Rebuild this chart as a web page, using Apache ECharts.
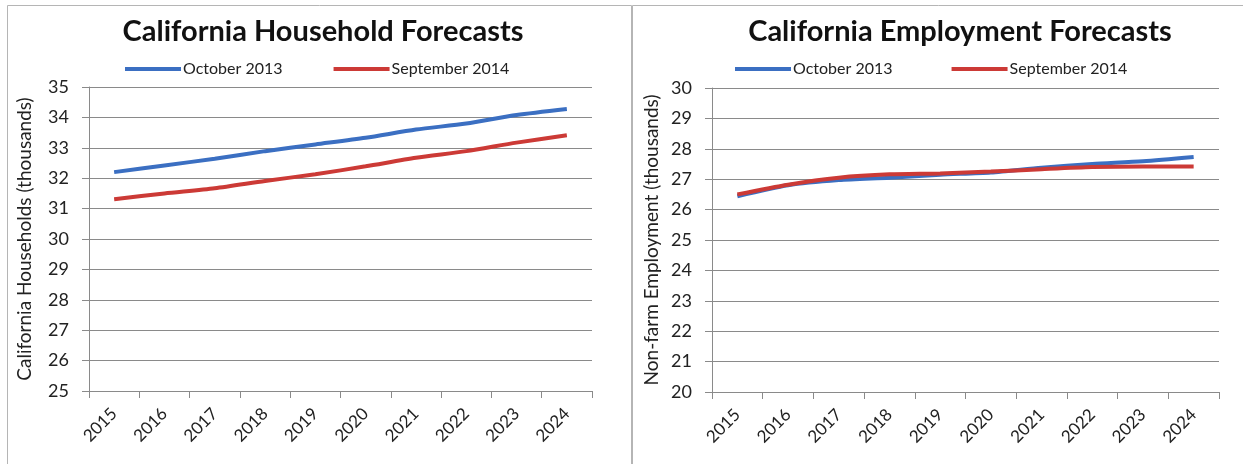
<!DOCTYPE html>
<html><head><meta charset="utf-8">
<script src="https://cdn.jsdelivr.net/npm/echarts@6/dist/echarts.min.js"></script>
<style>html,body{margin:0;padding:0;background:#fff}#c{width:1243px;height:464px}</style>
</head><body><div id="c"></div>
<script>
const years = ['2015','2016','2017','2018','2019','2020','2021','2022','2023','2024'];
const householdOct2013 = [32.2, 32.42, 32.64, 32.89, 33.11, 33.33, 33.6, 33.8, 34.08, 34.28];
const householdSep2014 = [31.31, 31.5, 31.67, 31.91, 32.13, 32.39, 32.67, 32.89, 33.17, 33.41];
const employmentOct2013 = [26.44, 26.8, 26.97, 27.05, 27.15, 27.22, 27.38, 27.5, 27.59, 27.73];
const employmentSep2014 = [26.5, 26.82, 27.05, 27.16, 27.19, 27.25, 27.33, 27.4, 27.42, 27.42];
const seriesNames = ['October 2013', 'September 2014'];
const titles = ['California Household Forecasts', 'California Employment Forecasts'];
const yNames = ['California Households (thousands)', 'Non-farm Employment (thousands)'];

const FONT = 'Lato, "Open Sans", sans-serif';
const BLUE = '#3b6fc2', RED = '#cc3a36', GRID = '#8a8a8a';

const chart = echarts.init(document.getElementById('c'), null, {renderer: 'canvas'});

function xAxis(gi) {
  return {
    type: 'category', gridIndex: gi, data: years, boundaryGap: true,
    axisLine: {show: true, lineStyle: {color: GRID, width: 1}},
    axisTick: {show: true, length: 7, lineStyle: {color: GRID}},
    axisLabel: {rotate: 45, color: '#222', fontFamily: FONT, fontSize: 17, margin: 20}
  };
}
function yAxis(gi, min, max, gap) {
  return {
    type: 'value', gridIndex: gi, min: min, max: max, interval: 1,
    name: yNames[gi], nameLocation: 'middle', nameGap: gap, nameRotate: 90,
    nameTextStyle: {color: '#222', fontFamily: FONT, fontSize: 19},
    axisLine: {show: true, lineStyle: {color: GRID, width: 1}},
    axisTick: {show: true, length: 7, lineStyle: {color: GRID}},
    axisLabel: {color: '#222', fontFamily: FONT, fontSize: 18, margin: 20},
    splitLine: {show: true, lineStyle: {color: GRID, width: 1}}
  };
}
function line(name, data, color, gi) {
  return {
    type: 'line', name: name, data: data, xAxisIndex: gi, yAxisIndex: gi,
    smooth: 0.25, symbol: 'none', lineStyle: {color: color, width: 4}, itemStyle: {color: color}
  };
}

chart.setOption({
  animation: false,
  backgroundColor: '#fff',
  title: [
    {text: titles[0], left: 318, top: 12, textAlign: 'center',
     textStyle: {fontFamily: FONT, fontWeight: 'bold', fontSize: 29, color: '#111'}},
    {text: titles[1], left: 955, top: 12, textAlign: 'center',
     textStyle: {fontFamily: FONT, fontWeight: 'bold', fontSize: 29, color: '#111'}}
  ],
  legend: [
    {data: seriesNames, left: 120, top: 56, icon: 'rect', itemWidth: 56, itemHeight: 4, itemGap: 51,
     textStyle: {fontFamily: FONT, fontSize: 16, color: '#222', padding: [0,0,0,-3]}},
    {data: seriesNames, left: 730, top: 56, icon: 'rect', itemWidth: 56, itemHeight: 4, itemGap: 59,
     textStyle: {fontFamily: FONT, fontSize: 16, color: '#222', padding: [0,0,0,-3]}}
  ],
  grid: [
    {left: 89, right: 1243 - 592, top: 87, bottom: 464 - 391},
    {left: 712, right: 1243 - 1219, top: 88, bottom: 464 - 392}
  ],
  xAxis: [xAxis(0), xAxis(1)],
  yAxis: [yAxis(0, 25, 35, 55), yAxis(1, 20, 30, 51)],
  series: [
    line(seriesNames[0], householdOct2013, BLUE, 0),
    line(seriesNames[1], householdSep2014, RED, 0),
    line(seriesNames[0], employmentOct2013, BLUE, 1),
    line(seriesNames[1], employmentSep2014, RED, 1)
  ],
  graphic: [
    {type: 'rect', shape: {x: 7.5, y: 5.5, width: 624, height: 470}, style: {fill: 'none', stroke: '#b5b5b5', lineWidth: 1}},
    {type: 'rect', shape: {x: 632.5, y: 5.5, width: 620, height: 470}, style: {fill: 'none', stroke: '#b5b5b5', lineWidth: 1}}
  ]
});
</script></body></html>
